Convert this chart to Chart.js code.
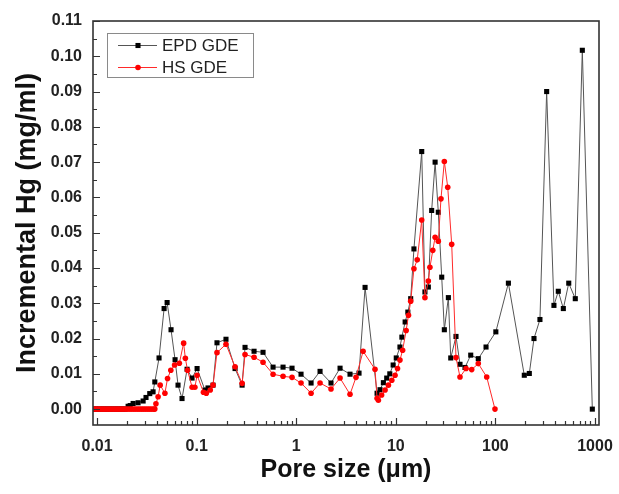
<!DOCTYPE html>
<html><head><meta charset="utf-8">
<script src="https://cdn.jsdelivr.net/npm/chart.js@4.4.1/dist/chart.umd.min.js"></script>
<style>html,body{margin:0;padding:0;background:#fff;overflow:hidden}#wrap{width:619px;height:494px;position:relative}</style>
</head><body><div id="wrap"><canvas id="c" width="619" height="494"></canvas></div>
<script>
const epdLabel = 'EPD GDE';
const hsLabel = 'HS GDE';
const xTitle = 'Pore size (μm)';
const yTitle = 'Incremental Hg (mg/ml)';

const epdX = [0.0092,0.0096,0.0100,0.0105,0.0110,0.0115,0.0120,0.0126,0.0132,0.0138,0.0145,0.0152,0.0159,0.0166,0.0174,0.0182,0.0191,
  0.0205,0.0215,0.0230,0.0258,0.0290,0.0310,0.0338,0.0365,0.0380,0.0419,0.0471,0.0505,0.0553,0.0607,0.0650,0.0713,0.0801,0.0899,0.101,
  0.121,0.130,0.146,0.160,0.197,0.243,0.286,0.306,0.377,0.464,0.585,0.737,0.907,1.117,1.409,1.734,2.234,2.754,3.467,4.27,4.91,
  6.48,6.94,7.5,8.1,8.7,9.4,10.1,11.0,11.5,12.4,13.2,14.1,15.2,18.2,19.6,21.2,22.9,24.8,26.7,28.9,30.7,33.7,35.6,40.2,44.1,49.5,
  56.5,67.3,80.5,101,135,195,219,244,280,327,387,428,481,545,634,746,940];
const epdY = [0,0,0,0,0,0,0,0,0,0,0,0,0,0,0,0,0,
  0.0008,0.0010,0.0016,0.0018,0.0023,0.0033,0.0044,0.0049,0.0077,0.0145,0.0285,0.0302,0.0225,0.0140,0.0068,0.0030,0.0113,0.0088,0.0115,
  0.0054,0.0060,0.0068,0.0188,0.0198,0.0115,0.0068,0.0175,0.0164,0.0161,0.0119,0.0119,0.0116,0.0099,0.0074,0.0107,0.0074,0.0116,0.0099,0.0102,0.0345,
  0.0045,0.0055,0.0075,0.0088,0.0100,0.0125,0.0145,0.0176,0.0204,0.0247,0.0275,0.0313,0.0454,0.0730,0.0332,0.0346,0.0563,0.0700,0.0558,0.0374,0.0225,0.0316,0.0145,0.0206,0.0127,0.0118,
  0.0153,0.0143,0.0176,0.0219,0.0357,0.0096,0.0101,0.0200,0.0254,0.0900,0.0294,0.0334,0.0285,0.0357,0.0313,0.1017,0];

const hsX = [0.0092,0.0096,0.0100,0.0105,0.0110,0.0115,0.0120,0.0126,0.0132,0.0138,0.0145,0.0152,0.0159,0.0166,0.0174,0.0182,0.0191,
  0.0200,0.0210,0.0220,0.0231,0.0242,0.0254,0.0266,0.0279,0.0292,0.0306,0.0321,0.0336,0.0352,0.0369,0.0380,
  0.039,0.041,0.043,0.048,0.051,0.055,0.060,0.067,0.074,0.077,0.081,0.090,0.096,0.101,0.117,0.125,0.137,0.146,0.160,0.197,
  0.243,0.286,0.306,0.377,0.464,0.585,0.737,0.907,1.117,1.409,1.734,2.234,2.754,3.467,3.98,4.69,6.18,
  6.48,6.68,7.20,7.80,8.42,9.11,9.82,10.4,11.0,11.7,12.7,13.4,14.1,15.2,16.4,18.2,19.6,21.2,22.0,23.5,24.8,26.7,28.4,30.7,33.2,36.4,
  40.2,44.1,50.7,57.8,67.3,81.8,99];
const hsY = [0,0,0,0,0,0,0,0,0,0,0,0,0,0,0,0,0,
  0,0,0,0,0,0,0,0,0,0,0,0,0,0,0,
  0.0015,0.0035,0.0068,0.0045,0.0087,0.0110,0.0125,0.0130,0.0187,0.0144,0.0110,0.0062,0.0062,0.0096,0.0048,0.0045,0.0054,0.0068,0.0160,0.0184,
  0.0120,0.0073,0.0155,0.0147,0.0133,0.0099,0.0093,0.0090,0.0074,0.0045,0.0074,0.0057,0.0088,0.0042,0.0090,0.0164,0.0113,
  0.0031,0.0025,0.0040,0.0054,0.0068,0.0082,0.0096,0.0115,0.0139,0.0167,0.0223,0.0266,0.0306,0.0398,0.0423,0.0536,0.0316,0.0363,0.0402,0.0450,0.0487,0.0476,0.0596,0.0702,0.0629,0.0467,
  0.0146,0.0091,0.0115,0.0112,0.0129,0.0091,0];

const xTickValues = [0.01, 0.1, 1, 10, 100, 1000];
const yTickValues = [0, 0.01, 0.02, 0.03, 0.04, 0.05, 0.06, 0.07, 0.08, 0.09, 0.10, 0.11];

const FONT = '"Liberation Sans", Arial, Helvetica, sans-serif';

const framePlugin = {
  id: 'frame',
  afterDatasetsDraw(chart) {
    const {ctx, chartArea: a, scales: {x, y}} = chart;
    ctx.save();
    ctx.strokeStyle = '#333';
    ctx.lineWidth = 1.6;
    ctx.strokeRect(a.left, a.top, a.right - a.left, a.bottom - a.top);
    ctx.lineWidth = 1.2;
    ctx.beginPath();
    for (let k = -3; k <= 3; k++) {
      for (let m = 1; m <= 9; m++) {
        const v = m * Math.pow(10, k);
        if (v < x.min || v > x.max) continue;
        const px = Math.round(x.getPixelForValue(v)) + 0.5;
        const len = m === 1 ? 7 : 4;
        ctx.moveTo(px, a.bottom);
        ctx.lineTo(px, a.bottom - len);
      }
    }
    for (let i = 0; i <= 22; i++) {
      const v = i * 0.005;
      const py = Math.round(y.getPixelForValue(v)) + 0.5;
      const len = i % 2 === 0 ? 7 : 4;
      ctx.moveTo(a.left, py);
      ctx.lineTo(a.left + len, py);
    }
    ctx.stroke();
    ctx.restore();
  },
  afterDraw(chart) {
    const ctx = chart.ctx;
    ctx.save();
    const bx = 107, by = 33, bw = 146, bh = 44;
    ctx.strokeStyle = '#8a8a8a';
    ctx.lineWidth = 1;
    ctx.strokeRect(bx + 0.5, by + 0.5, bw, bh);
    chart.data.datasets.forEach((ds, i) => {
      const yy = 45 + i * 22;
      ctx.strokeStyle = ds.borderColor;
      ctx.lineWidth = 1;
      ctx.beginPath();
      ctx.moveTo(118, yy + 0.5);
      ctx.lineTo(157, yy + 0.5);
      ctx.stroke();
      ctx.fillStyle = ds.pointBackgroundColor;
      if (ds.pointStyle === 'rect') {
        const s = ds.pointRadius * Math.SQRT1_2;
        ctx.fillRect(138 - s, yy + 0.5 - s, 2 * s, 2 * s);
      } else {
        ctx.beginPath();
        ctx.arc(138, yy + 0.5, ds.pointRadius, 0, Math.PI * 2);
        ctx.fill();
      }
      ctx.fillStyle = '#222';
      ctx.font = '17px ' + FONT;
      ctx.textBaseline = 'middle';
      ctx.textAlign = 'left';
      ctx.fillText(ds.label, 162, yy + 1);
    });
    ctx.restore();
  }
};

const toPts = (xs, ys) => xs.map((v, i) => ({x: v, y: ys[i]}));

new Chart(document.getElementById('c'), {
  type: 'line',
  data: {
    datasets: [
      {
        label: epdLabel,
        data: toPts(epdX, epdY),
        borderColor: '#555555',
        borderWidth: 1,
        pointStyle: 'rect',
        pointRadius: 3.6,
        pointBackgroundColor: '#000000',
        pointBorderColor: '#000000',
        pointBorderWidth: 0,
        tension: 0,
        order: 2
      },
      {
        label: hsLabel,
        data: toPts(hsX, hsY),
        borderColor: '#ff2a2a',
        borderWidth: 1,
        pointStyle: 'circle',
        pointRadius: 2.8,
        pointBackgroundColor: '#ff0000',
        pointBorderColor: '#ff0000',
        pointBorderWidth: 0,
        tension: 0,
        order: 1
      }
    ]
  },
  options: {
    responsive: false,
    animation: false,
    devicePixelRatio: 1,
    layout: {padding: {top: 21, right: 20, left: 0, bottom: 0}},
    plugins: {legend: {display: false}, tooltip: {enabled: false}},
    scales: {
      x: {
        type: 'logarithmic',
        position: 'bottom',
        min: 0.0091,
        max: 1097,
        grid: {display: false, drawTicks: false},
        border: {display: false},
        afterBuildTicks: s => { s.ticks = xTickValues.map(v => ({value: v})); },
        afterFit: s => { s.height = 69; s.paddingLeft = 0; s.paddingRight = 0; },
        ticks: {
          autoSkip: false, maxRotation: 0, padding: 12, color: '#222',
          font: {family: FONT, size: 16, weight: 'bold'},
          callback: v => String(v)
        },
        title: {display: true, text: xTitle, color: '#111',
          font: {family: FONT, size: 25, weight: 'bold'}, padding: {top: 0, bottom: 9}}
      },
      y: {
        type: 'linear',
        position: 'left',
        min: -0.0045,
        max: 0.11,
        grid: {display: false, drawTicks: false},
        border: {display: false},
        afterBuildTicks: s => { s.ticks = yTickValues.map(v => ({value: v})); },
        afterFit: s => { s.width = 93; s.paddingTop = 0; s.paddingBottom = 0; },
        ticks: {
          padding: 11, color: '#222',
          font: {family: FONT, size: 16, weight: 'bold'},
          callback: v => Number(v).toFixed(2)
        },
        title: {display: true, text: yTitle, color: '#111',
          font: {family: FONT, size: 27, weight: 'bold'}, padding: {top: 11, bottom: 0}}
      }
    }
  },
  plugins: [framePlugin]
});
</script>
</body></html>
